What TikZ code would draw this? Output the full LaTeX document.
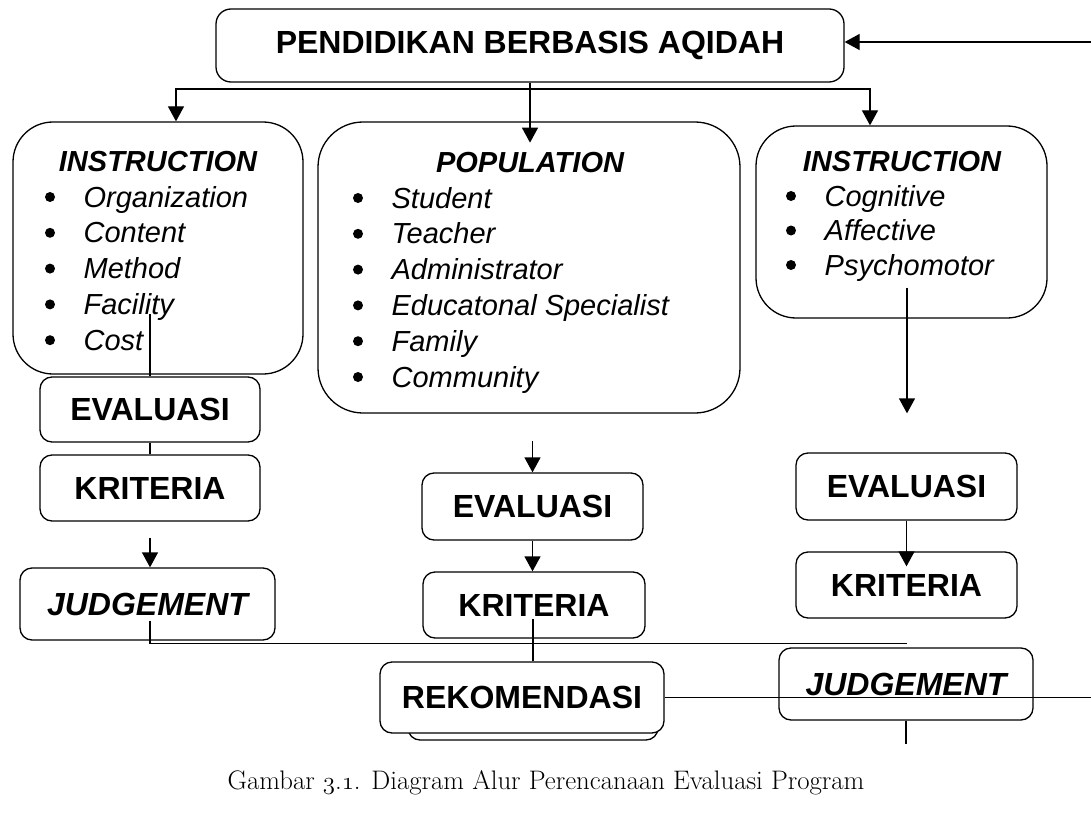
\documentclass[tikz,border=0pt]{standalone}
\usepackage{fontspec}
\setsansfont{Liberation Sans}
\usetikzlibrary{arrows.meta,calc}
\newcommand\osnum[1]{{\usefont{OML}{cmm}{m}{it}#1}}
\tikzset{every path/.style={line width=1.3pt},
  box/.style={draw, fill=white, rounded corners=12pt, inner sep=0pt, font=\sffamily\bfseries\fontsize{32}{38}\selectfont},
  bigbox/.style={draw, fill=white, rounded corners=40pt, inner sep=0pt},
  head/.style={inner sep=0pt, font=\sffamily\bfseries\itshape\fontsize{29}{35}\selectfont},
  item/.style={inner sep=0pt, font=\sffamily\itshape\fontsize{29}{35}\selectfont},
  arr/.style={-{Triangle[width=16pt,length=15pt]}}}

\begin{document}
\begin{tikzpicture}[x=1pt,y=-1pt]
  \useasboundingbox (0,0) rectangle (1091,829);
  \node[box, rounded corners=15pt, minimum width=628pt, minimum height=73pt] (top) at (530,45.5) {PENDIDIKAN BERBASIS AQIDAH};
  \node[bigbox, minimum width=290pt, minimum height=252pt] (instrA) at (158,248) {};
  \node[bigbox, rounded corners=45pt, minimum width=422pt, minimum height=291pt] (popul) at (529,267.5) {};
  \node[bigbox, minimum width=291pt, minimum height=192pt] (instrB) at (901.5,222) {};

  \node[head] (headA) at (158,162) {INSTRUCTION};
  \node[head] (headB) at (530,163) {POPULATION};
  \node[head] (headC) at (902,162) {INSTRUCTION};
  \foreach \txt [count=\i] in {Organization,Content,Method,Facility,Cost} {
    \fill (50,{197+35.8*(\i-1)}) circle (5pt);
    \node[item, anchor=base west] (itemA\i) at (83,{207+35.8*(\i-1)}) {\txt};
  }
  \foreach \txt [count=\i] in {Student,Teacher,Administrator,Educatonal Specialist,Family,Community} {
    \fill (358,{198+35.8*(\i-1)}) circle (5pt);
    \node[item, anchor=base west] (itemB\i) at (391,{208+35.8*(\i-1)}) {\txt};
  }
  \foreach \txt [count=\i] in {Cognitive,Affective,Psychomotor} {
    \fill (791,{196+34.5*(\i-1)}) circle (5pt);
    \node[item, anchor=base west] (itemC\i) at (824,{206+34.5*(\i-1)}) {\txt};
  }

  \node[box, minimum width=220pt, minimum height=65pt] (evalA) at (150,409.5) {EVALUASI};
  \node[box, minimum width=220pt, minimum height=66pt] (kritA) at (150,488)   {KRITERIA};
  \node[box, minimum width=255pt, minimum height=72pt] (judgA) at (147.5,604) {\itshape JUDGEMENT};
  \node[box, minimum width=221pt, minimum height=67pt] (evalB) at (532.5,506.5) {EVALUASI};
  \node[box, minimum width=222pt, minimum height=66pt] (kritB) at (534,605)   {KRITERIA};
  \node[box, minimum width=250pt, minimum height=60pt] (rekomS) at (533,710) {};
  \node[box, minimum width=284pt, minimum height=71pt] (rekom) at (522,697.5) {REKOMENDASI};
  \node[box, minimum width=221pt, minimum height=67pt] (evalC) at (906.5,486.5) {EVALUASI};
  \node[box, minimum width=221pt, minimum height=66pt] (kritC) at (906.5,585) {KRITERIA};
  \node[box, minimum width=254pt, minimum height=72pt] (judgC) at (906,684)   {\itshape JUDGEMENT};

  \coordinate (back)  at (1091,42);
  \coordinate (split) at (top.south |- 0,89);
  \draw[arr] (back) -- (top.east |- back);
  \draw[arr] (top.south) -- ++(0,60);
  \draw[arr] (split) -| ($(instrA.north)+(18,0)$);
  \draw[arr] (split) -| ($(instrB.north)+(-31.5,0)$);

  \draw      ($(evalA.north)+(0,-62)$) -- (evalA.north);
  \draw      (evalA.south) -- (kritA.north);
  \draw[arr] ($(kritA.south)+(0,16)$) -- (kritA.south |- judgA.north);
  \draw      ($(judgA.south)+(2.5,-20)$) |- ($(judgC.north)+(1,-4)$);

  \draw[arr] ($(evalB.north)+(0,-31)$) -- (evalB.north);
  \draw[arr] (evalB.south) -- (evalB.south |- kritB.north);
  \draw      ($(kritB.south)+(-1,-20)$) coordinate (kb) -- (kb |- rekom.north);

  \draw[arr] ($(instrB.south)+(5.5,-31)$) -- ($(evalC.north)+(0.5,-39)$);
  \draw[arr] (evalC.south) -- ($(kritC.north)+(0,15)$);
  \draw      (judgC.south) -- ++(0,23);
  \draw      (rekom.east) -- (rekom.east -| back);

  \node[font=\fontsize{26.8}{31}\selectfont] (caption) at (546,783) {Gambar \osnum{3}.\osnum{1}. Diagram Alur Perencanaan Evaluasi Program};
\end{tikzpicture}
\end{document}
